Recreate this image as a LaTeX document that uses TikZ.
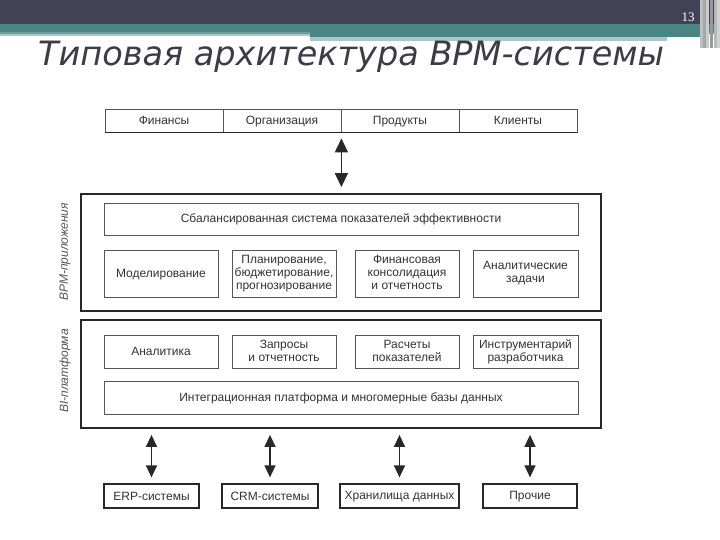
\documentclass[tikz,border=0pt]{standalone}
\usepackage{fontspec}
\setmainfont{Liberation Sans}
\newfontfamily\titlefont{DejaVu Sans}
\newfontfamily\numfont{Liberation Serif}
\usepackage{tikz}
\usetikzlibrary{positioning,arrows.meta,calc}
\usepackage{xcolor}
\definecolor{bandgray}{RGB}{66,66,86}
\definecolor{bandteal}{RGB}{74,132,132}
\definecolor{bandlight}{RGB}{168,200,200}
\definecolor{titleink}{RGB}{60,60,72}
\definecolor{boxink}{RGB}{51,51,51}
\definecolor{boxline}{RGB}{85,85,85}
\definecolor{frameline}{RGB}{40,40,40}
\newcommand\boxstrut{\vrule height 10pt depth 1.4pt width 0pt}

\begin{document}
\begin{tikzpicture}[x=1pt,y=-1pt,
  box/.style={rectangle,draw=boxline,line width=0.8pt,text=boxink,inner sep=0pt,
    font=\fontsize{12}{13}\selectfont,align=center,
    execute at begin node=\boxstrut,execute at end node=\boxstrut},
  cell/.style={box,minimum width=118pt,minimum height=23pt},
  app/.style={box,minimum width=104pt,minimum height=47pt},
  plat/.style={box,minimum width=104pt,minimum height=33pt},
  wide/.style={box,minimum width=474pt,minimum height=32pt},
  frame/.style={rectangle,draw=frameline,line width=1.8pt,minimum width=520pt,inner sep=0pt},
  src/.style={box,draw=frameline,line width=1.2pt,minimum height=24pt},
  side/.style={rotate=90,text=boxline,font=\fontsize{12}{13}\selectfont\itshape},
  dbl/.style={{Triangle[length=12pt,width=11pt]}-{Triangle[length=12pt,width=11pt]},
    line width=1.4pt,frameline,shorten <=6pt,shorten >=6pt}
]
\useasboundingbox (0,0) rectangle (720,540);
% header
\fill[white] (0,0) rectangle (720,540);
\fill[bandgray] (0,0) rectangle (720,24);
\fill[bandteal] (0,24) rectangle (720,32);
\fill[bandteal!80!white] (0,32) rectangle (720,34);
\fill[bandlight] (0,34) rectangle (310,36);
\fill[bandteal] (310,32) rectangle (700,37);
\fill[bandlight] (310,37) rectangle (667,41);
\foreach \xx/\sh in {700/50,703/70,706/40,710/80,714/55,717/35}
  \fill[gray!\sh] (\xx,0) rectangle ++(3,48);
\node[text=white,font=\numfont\fontsize{13}{13}\selectfont] (num) at (688,17) {13};
\node[anchor=base west,text=titleink,font=\titlefont\itshape\fontsize{33.5}{36}\selectfont,inner sep=0pt] (title) at (38,66) {Типовая архитектура BPM-системы};

% top row
\node[cell] (fin) at (164,120.5) {Финансы};
\node[cell] (org) at (282,120.5) {Организация};
\node[cell] (prod) at (400,120.5) {Продукты};
\node[cell] (cli) at (518,120.5) {Клиенты};
\draw[line width=1.3pt,frameline] (fin.south west) -- (cli.south east);

% BPM applications
\node[frame,minimum height=117pt] (bpm) at (341,252.5) {};
\node[side] (bpmlab) at (65,252) {BPM-приложения};
\node[wide] (bsc) at (341,219) {Сбалансированная система показателей эффективности};
\node[app,minimum width=114pt] (model) at (161,273.5) {Моделирование};
\node[app] (plan) at (284,273.5) {Планирование,\\бюджетирование,\\прогнозирование};
\node[app] (cons) at (407,273.5) {Финансовая\\консолидация\\и отчетность};
\node[app,minimum width=105pt] (task) at (525.5,273.5) {Аналитические\\задачи};

% BI platform
\node[frame,minimum height=108pt] (bi) at (341,374) {};
\node[side] (bilab) at (65,371) {BI-платформа};
\node[plat,minimum width=114pt] (anl) at (161,351.5) {Аналитика};
\node[plat] (rep) at (284,351.5) {Запросы\\и отчетность};
\node[plat] (kpi) at (407,351.5) {Расчеты\\показателей};
\node[plat,minimum width=105pt] (dev) at (525.5,351.5) {Инструментарий\\разработчика};
\node[wide,minimum height=33pt] (integ) at (341,397.5) {Интеграционная платформа и многомерные базы данных};

% sources
\node[src,minimum width=95pt] (erp) at (151.5,496) {ERP-системы};
\node[src,minimum width=96pt] (crm) at (270,496) {CRM-системы};
\node[src,minimum width=119pt] (dwh) at (399.5,496) {Хранилища данных};
\node[src,minimum width=94pt] (oth) at (530,496) {Прочие};

% arrows
\draw[dbl,{Triangle[length=14pt,width=13pt]}-{Triangle[length=14pt,width=13pt]}] (org.south east) -- (org.south east |- bpm.north);
\foreach \s in {erp,crm,dwh,oth}
  \draw[dbl] (\s.north |- bi.south) -- (\s.north);
\end{tikzpicture}
\end{document}
